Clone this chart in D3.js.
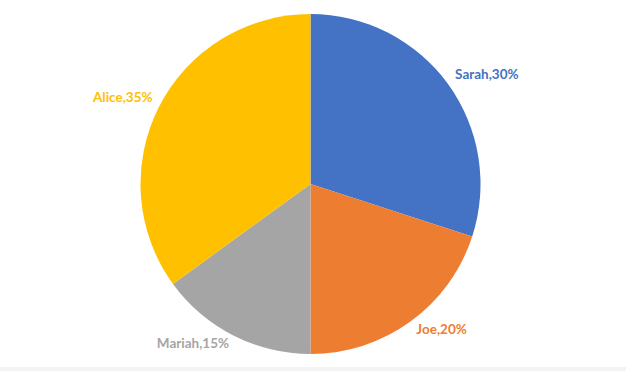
<!DOCTYPE html>
<html>
<head>
<meta charset="utf-8">
<script src="https://cdn.jsdelivr.net/npm/d3@7"></script>
<style>
  html, body { margin: 0; padding: 0; background: #fff; }
  svg { display: block; }
</style>
</head>
<body>
<div id="chart"></div>
<script>
var names = ["Sarah", "Joe", "Mariah", "Alice"];
var shares = [30, 20, 15, 35];
var colors = ["#4472C4", "#ED7D31", "#A5A5A5", "#FFC000"];

var width = 626, height = 371;
var cx = 310.5, cy = 184, radius = 170;

var svg = d3.select("#chart").append("svg")
  .attr("width", width)
  .attr("height", height);

// thin grey strip along the bottom edge
svg.append("rect")
  .attr("x", 0).attr("y", 367)
  .attr("width", width).attr("height", 4)
  .attr("fill", "#f3f3f3");

var data = names.map((n, i) => ({ name: n, value: shares[i], color: colors[i] }));

var pie = d3.pie().value(d => d.value).sort(null);
var arc = d3.arc().innerRadius(0).outerRadius(radius);
var edgeArc = d3.arc().innerRadius(radius + 5).outerRadius(radius + 5);

var g = svg.append("g").attr("transform", `translate(${cx}, ${cy})`);

var arcs = pie(data);

g.selectAll(".slice")
  .data(arcs)
  .enter()
  .append("path")
  .attr("class", "slice")
  .attr("d", arc)
  .attr("fill", d => d.data.color);

// labels sit just outside the rim, pushed away from the pie
g.selectAll(".lbl")
  .data(arcs)
  .enter()
  .append("text")
  .attr("class", "lbl")
  .each(function (d) {
    var p = edgeArc.centroid(d);
    var mid = (d.startAngle + d.endAngle) / 2;
    var right = Math.sin(mid) > 0;
    var top = Math.cos(mid) > 0;
    d3.select(this)
      .attr("x", p[0] + (right ? 3 : -2))
      .attr("y", p[1] + (top ? -6 : 5))
      .attr("text-anchor", right ? "start" : "end");
  })
  .attr("dominant-baseline", "middle")
  .attr("font-family", "Lato, 'Open Sans', sans-serif")
  .attr("font-weight", "bold")
  .attr("font-size", "13.5px")
  .attr("fill", d => d.data.color)
  .text(d => `${d.data.name},${d.data.value}%`);
</script>
</body>
</html>
